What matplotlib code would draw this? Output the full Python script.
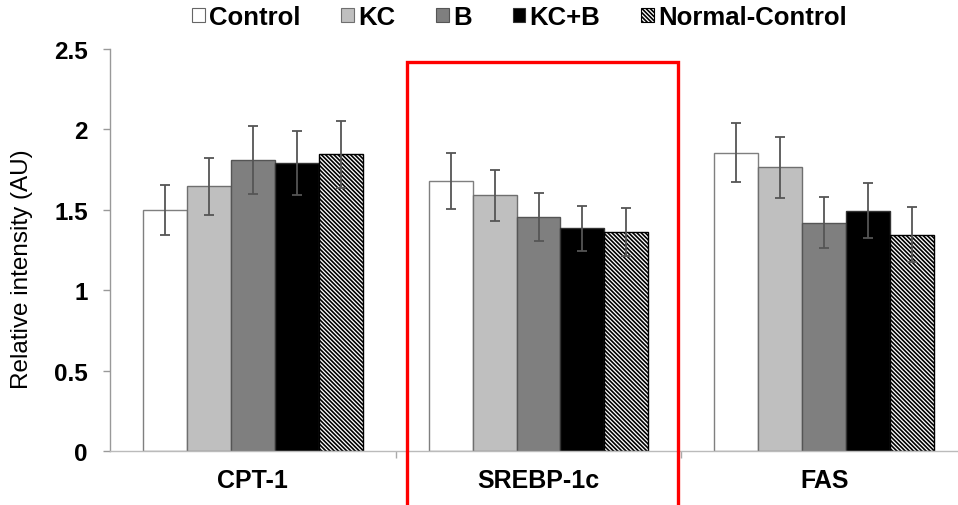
import matplotlib
matplotlib.use("Agg")
import matplotlib.pyplot as plt
import numpy as np
from matplotlib.patches import Patch, Rectangle

categories = ["CPT-1", "SREBP-1c", "FAS"]
groups = ["Control", "KC", "B", "KC+B", "Normal-Control"]
values = {
    "Control":        [1.50, 1.68, 1.855],
    "KC":             [1.645, 1.59, 1.765],
    "B":              [1.81, 1.455, 1.42],
    "KC+B":           [1.79, 1.385, 1.495],
    "Normal-Control": [1.845, 1.36, 1.345],
}
errors = {
    "Control":        [0.155, 0.175, 0.185],
    "KC":             [0.18, 0.16, 0.19],
    "B":              [0.21, 0.15, 0.16],
    "KC+B":           [0.20, 0.14, 0.17],
    "Normal-Control": [0.21, 0.15, 0.17],
}
yticks = [0, 0.5, 1, 1.5, 2, 2.5]
ytick_labels = ["0", "0.5", "1", "1.5", "2", "2.5"]

styles = {
    "Control":        dict(facecolor="white", edgecolor="#7f7f7f", hatch=None),
    "KC":             dict(facecolor="#bfbfbf", edgecolor="#6f6f6f", hatch=None),
    "B":              dict(facecolor="#7f7f7f", edgecolor="#555555", hatch=None),
    "KC+B":           dict(facecolor="black", edgecolor="#333333", hatch=None),
    "Normal-Control": dict(facecolor="white", edgecolor="black", hatch="\\" * 8),
}

plt.rcParams["font.family"] = ["Liberation Sans", "DejaVu Sans"]
plt.rcParams["hatch.linewidth"] = 1.2
plt.rcParams["hatch.color"] = "black"

W, H = 958, 506
fig = plt.figure(figsize=(W / 100, H / 100), dpi=100)
ax = fig.add_axes([110 / W, 54 / H, 857 / W, 402 / H])

x = np.arange(len(categories))
w = 0.154
for i, g in enumerate(groups):
    st = styles[g]
    pos = x + (i - 2) * w
    ax.bar(pos, values[g], width=w, facecolor=st["facecolor"], edgecolor=st["edgecolor"],
           hatch=st["hatch"], linewidth=1.0, zorder=2)
    ax.errorbar(pos, values[g], yerr=errors[g], fmt="none", ecolor="#555555",
                elinewidth=1.3, capsize=3.5, capthick=1.3, zorder=3)

ax.set_xlim(-0.5, len(categories) - 0.5)
ax.set_ylim(0, 2.5)
ax.set_yticks(yticks)
ax.set_yticklabels(ytick_labels, fontsize=17.5, fontweight="bold")
ax.set_xticks(x)
ax.set_xticklabels(categories, fontsize=18, fontweight="bold")
ax.set_xticks(x[:-1] + 0.5, minor=True)
ax.tick_params(axis="x", which="major", length=0, pad=12)
ax.tick_params(axis="x", which="minor", length=5, color="#aaaaaa", width=1)
ax.tick_params(axis="y", length=5, color="#999999", width=1, pad=11)
for s in ["top", "right"]:
    ax.spines[s].set_visible(False)
ax.spines["left"].set_color("#999999")
ax.spines["bottom"].set_color("#bbbbbb")
ax.spines["left"].set_linewidth(1.0)
ax.spines["bottom"].set_linewidth(1.0)

fig.text(22 / W, 1 - 269 / H, "Relative intensity (AU)", rotation=90,
         ha="center", va="center", fontsize=17.5)

handles = [Patch(facecolor=styles[g]["facecolor"], edgecolor=styles[g]["edgecolor"] if g != "Control" else "#666666",
                 hatch=styles[g]["hatch"], linewidth=0.8, label=g) for g in groups]
leg = fig.legend(handles=handles, loc="center", bbox_to_anchor=(0.542, 1 - 18 / H), ncol=5,
                 frameon=False, handlelength=0.5, handleheight=0.5, handletextpad=0.15,
                 columnspacing=1.6, prop={"size": 18.5, "weight": "bold"})

# red highlight box around SREBP-1c
rect = Rectangle((1 - 0.461, -0.5), 0.949, 2.42 + 0.5, fill=False, edgecolor="#ff0000",
                 linewidth=2.4, clip_on=False, zorder=5)
ax.add_patch(rect)

fig.savefig("out.png", dpi=100)
